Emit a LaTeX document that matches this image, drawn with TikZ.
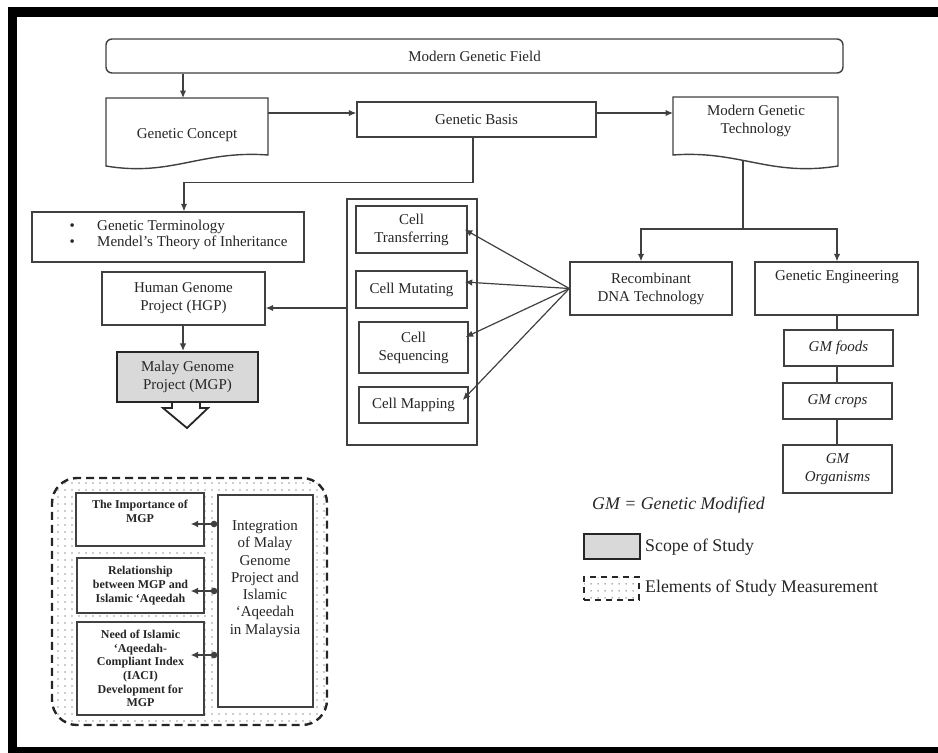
\documentclass[tikz,border=0pt]{standalone}
\usepackage{fontspec}
\setmainfont{Liberation Serif}
\usetikzlibrary{arrows.meta,patterns.meta,calc}
\begin{document}
\begin{tikzpicture}[x=1pt,y=-1pt,
  txt/.style={inner sep=0pt, text=black!85, font=\fontsize{15}{18}\selectfont, align=center},
  smalltxt/.style={inner sep=0pt, text=black!85, font=\fontsize{12}{13.7}\selectfont\bfseries, align=center},
  legtxt/.style={inner sep=0pt, text=black!85, font=\fontsize{17.8}{20}\selectfont, anchor=west},
  box/.style={draw=black!75, line width=1.4pt, fill=white, inner sep=0pt, txt},
  shapeline/.style={draw=black!75, line width=1.4pt, fill=white},
  conn/.style={draw=black!75, line width=1.2pt},
  arr/.style={conn, -{Latex[length=7.5pt,width=6.5pt]}},
  dotarr/.style={conn, line width=1.4pt, {Circle[length=6.5pt]}-{Latex[length=7.5pt,width=7pt]}},
  scopebox/.style={draw=black!85, line width=2.2pt, fill=gray!30, inner sep=0pt, txt},
  elembox/.style={draw=black!85, line width=2.4pt, dash pattern=on 8pt off 5pt,
     pattern={Dots[distance=6.5pt,radius=0.9pt]}, pattern color=black!40, inner sep=0pt}
]
\useasboundingbox (0,0) rectangle (938,753);
% frame
\fill[black] (8,7) rectangle (938,17);
\fill[black] (8,7) rectangle (17,753);
\fill[black] (8,747) rectangle (938,753);

% top row
\node[box, rounded corners=6pt, minimum width=737pt, minimum height=34pt] (mgf) at (474.5,56) {Modern Genetic Field};

\draw[shapeline] (106,98) -- (268,98) -- (268,155) .. controls (201,150) and (171,177) .. (106,166) -- cycle;
\node[txt] (gc) at (187,135) {Genetic Concept};
\coordinate (gcN) at (183,98);
\coordinate (gcE) at (268,113);

\node[box, minimum width=239pt, minimum height=35pt] (gb) at (476.5,119.5) {Genetic Basis};

\draw[shapeline] (673,97) -- (838,97) -- (838,166) .. controls (770,177) and (740,150) .. (673,155) -- cycle;
\node[txt] (mgt) at (756,121) {Modern Genetic\\Technology};
\coordinate (mgtW) at (673,113);
\coordinate (mgtS) at (743,160.5);

\draw[arr] (mgf.south -| gcN) -- (gcN);
\draw[arr] (gcE) -- (gcE -| gb.west);
\draw[arr] (gb.east |- mgtW) -- (mgtW);

% left column
\node[box, minimum width=272pt, minimum height=50pt] (bul) at (168,237) {};
\node[txt, anchor=west, align=left, font=\fontsize{15}{16.7}\selectfont] (bultxt) at (69.5,235)
  {\makebox[27.5pt][l]{•}Genetic Terminology\\\makebox[27.5pt][l]{•}Mendel’s Theory of Inheritance};
\draw[arr] ([xshift=-3.5pt]gb.south) -- ++(0,45) -| ([xshift=16pt]bul.north);

\node[box, minimum width=163pt, minimum height=53pt] (hgp) at (183.5,298.5) {Human Genome\\Project (HGP)};
\node[scopebox, minimum width=141pt, minimum height=50pt] (mgp) at (187.5,377) {Malay Genome\\Project (MGP)};
\draw[arr] (hgp.south -| 183,0) -- (mgp.north -| 183,0);
\draw[draw=black!85, line width=1.8pt, fill=white] (mgp.south -| 172,0) -- (172,408) -- (163,408) -- (187,428) -- (208,408) -- (200,408) -- (mgp.south -| 200,0);

% cells
\node[box, minimum width=130pt, minimum height=246pt] (cells) at (412,322) {};
\node[box, minimum width=111pt, minimum height=47pt] (ct) at (411.5,229.5) {Cell\\Transferring};
\node[box, minimum width=111pt, minimum height=37pt] (cm) at (411.5,289.5) {Cell Mutating};
\node[box, minimum width=109pt, minimum height=51pt] (cs) at (413.5,347.5) {Cell\\Sequencing};
\node[box, minimum width=109pt, minimum height=36pt] (cp) at (413.5,405) {Cell Mapping};
\draw[arr] ($(cells.west)+(0,-14)$) -- ($(hgp.east)+(0,9.5)$);

% right column
\node[box, minimum width=162pt, minimum height=53pt] (rdna) at (651,288.5) {Recombinant\\DNA Technology};
\node[box, minimum width=163pt, minimum height=53pt] (ge) at (836.5,288.5) {};
\node[txt] (getxt) at (837,277) {Genetic Engineering};
\coordinate (br) at (743,229);
\draw[conn] (mgtS) -- (br);
\draw[arr] (br) -| ($(rdna.north)+(-10,0)$);
\draw[arr] (br) -| ($(ge.north)+(0.5,0)$);

\node[box, font=\fontsize{15}{18}\selectfont\itshape, minimum width=109pt, minimum height=36pt] (gmf) at (838.5,348) {GM foods};
\node[box, font=\fontsize{15}{18}\selectfont\itshape, minimum width=109pt, minimum height=36pt] (gmc) at (837.5,401) {GM crops};
\node[box, font=\fontsize{15}{18}\selectfont\itshape, minimum width=109pt, minimum height=48pt] (gmo) at (837.5,469) {GM\\Organisms};
\draw[conn] ($(ge.south)+(0.5,0)$) -- ($(gmf.north)+(-1.5,0)$);
\draw[conn] ($(gmf.south)+(-1.5,0)$) -- ($(gmc.north)+(-0.5,0)$);
\draw[conn] ($(gmc.south)+(-0.5,0)$) -- ($(gmo.north)+(-0.5,0)$);

% recombinant to cells
\draw[arr] (rdna.west) -- ($(ct.east)+(-3,0)$);
\draw[arr] (rdna.west) -- ($(cm.east)+(-3,-7.5)$);
\draw[arr] (rdna.west) -- ($(cs.east)+(-3,-10.5)$);
\draw[arr] (rdna.west) -- ($(cp.east)+(-6,-5)$);

% elements of study measurement
\node[elembox, rounded corners=25pt, minimum width=275pt, minimum height=247pt] (elem) at (189.5,601.5) {};
\node[box, minimum width=128pt, minimum height=53pt] (imp) at (140,519.5) {};
\node[smalltxt] (imptxt) at (140,511) {The Importance of\\MGP};
\node[box, smalltxt, minimum width=127pt, minimum height=55pt] (rel) at (140.5,585.5) {Relationship\\between MGP and\\Islamic ‘Aqeedah};
\node[box, smalltxt, minimum width=127pt, minimum height=93pt] (need) at (140.5,668.5) {Need of Islamic\\‘Aqeedah-\\Compliant Index\\(IACI)\\Development for\\MGP};
\node[box, minimum width=95pt, minimum height=212pt] (integ) at (265.5,601) {};
\node[txt, font=\fontsize{15}{17.3}\selectfont] (integtxt) at (265,579) {Integration\\of Malay\\Genome\\Project and\\Islamic\\‘Aqeedah\\in Malaysia};
\draw[dotarr] ($(integ.west)+(0,-77)$) -- ($(imp.east)+(-14,4.5)$);
\draw[dotarr] ($(integ.west)+(0,-10)$) -- ($(rel.east)+(-14,5.5)$);
\draw[dotarr] ($(integ.west)+(0,54)$) -- ($(need.east)+(-14,-13.5)$);

% legend
\node[legtxt, font=\fontsize{17.8}{20}\selectfont\itshape] (gmdef) at (592,505) {GM = Genetic Modified};
\node[scopebox, minimum width=56pt, minimum height=25pt] (lscope) at (612,546.5) {};
\node[legtxt] (lscopetxt) at (645,547) {Scope of Study};
\node[elembox, line width=2.2pt, dash pattern=on 6pt off 5pt, minimum width=55pt, minimum height=23pt] (lelem) at (611.5,588.5) {};
\node[legtxt] (lelemtxt) at (645,588) {Elements of Study Measurement};
\end{tikzpicture}
\end{document}
